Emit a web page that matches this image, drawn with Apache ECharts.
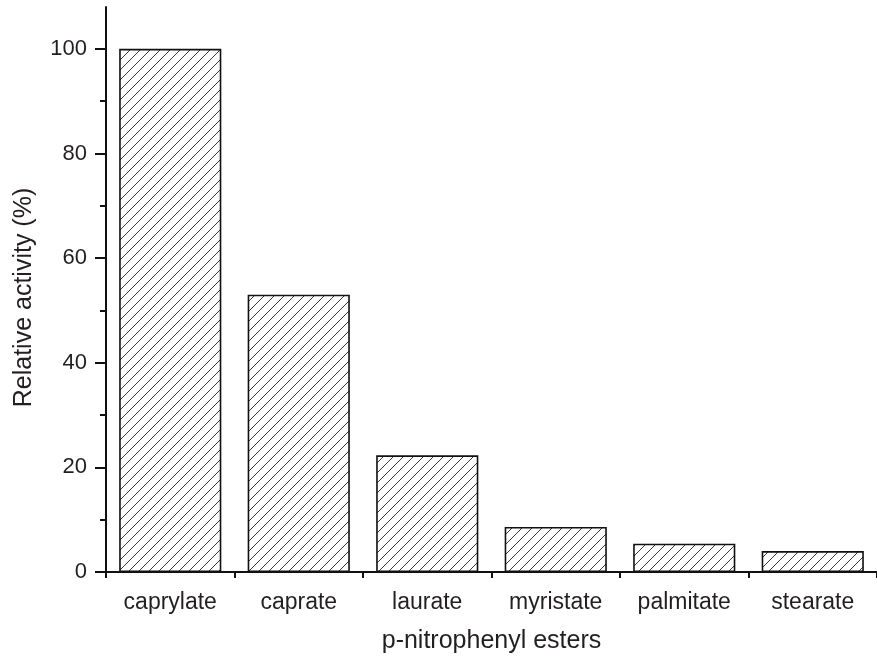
<!DOCTYPE html>
<html>
<head>
<meta charset="utf-8">
<script src="https://cdn.jsdelivr.net/npm/echarts@6/dist/echarts.min.js"></script>
<style>html,body{margin:0;padding:0;background:#fff}#c{width:877px;height:659px}</style>
</head>
<body>
<div id="c"></div>
<script>
var categories = ['caprylate', 'caprate', 'laurate', 'myristate', 'palmitate', 'stearate'];
var activity = [100, 53, 22.3, 8.6, 5.4, 4.0];
var yMajorTicks = [0, 20, 40, 60, 80, 100];
var yMinorTicks = [10, 30, 50, 70, 90];

function hatch() {
  var s = 10, cv = document.createElement('canvas');
  cv.width = s; cv.height = s;
  var g = cv.getContext('2d');
  g.fillStyle = '#fff'; g.fillRect(0, 0, s, s);
  g.strokeStyle = '#222'; g.lineWidth = 0.9;
  g.beginPath();
  g.moveTo(-1, s + 1); g.lineTo(s + 1, -1);
  g.moveTo(-1, 1); g.lineTo(1, -1);
  g.moveTo(s - 1, s + 1); g.lineTo(s + 1, s - 1);
  g.stroke();
  return cv;
}

var txt = '#231f20';
var font = 'Liberation Sans';
var chart = echarts.init(document.getElementById('c'));
chart.setOption({
  animation: false,
  backgroundColor: '#fff',
  grid: { left: 106, top: 7, width: 774, bottom: 87, containLabel: false },
  xAxis: [{
    type: 'category', data: categories, position: 'bottom',
    axisLine: { lineStyle: { color: '#111', width: 2 } },
    axisTick: { alignWithLabel: true, length: 11, lineStyle: { color: '#111', width: 2 } },
    axisLabel: { color: txt, fontSize: 23, fontFamily: font, margin: 19 },
    name: 'p-nitrophenyl esters', nameLocation: 'middle', nameGap: 57,
    nameTextStyle: { color: txt, fontSize: 25, fontFamily: font }
  }, {
    type: 'category', data: categories, position: 'bottom', offset: 0,
    axisLine: { show: false },
    axisTick: { show: true, length: 6, lineStyle: { color: '#111', width: 2 } },
    axisLabel: { show: false }
  }],
  yAxis: [{
    type: 'value', min: 0, max: 108,
    axisLine: { show: true, lineStyle: { color: '#111', width: 2 } },
    axisTick: { show: true, length: 11, customValues: yMajorTicks, lineStyle: { color: '#111', width: 2 } },
    axisLabel: { color: txt, fontSize: 22, fontFamily: font, margin: 19, customValues: yMajorTicks },
    splitLine: { show: false },
    name: 'Relative activity (%)', nameLocation: 'middle', nameGap: 69,
    nameTextStyle: { color: txt, fontSize: 25, fontFamily: font, padding: [0, 16, 0, 0] }
  }, {
    type: 'value', min: 0, max: 108, position: 'left', offset: 0,
    axisLine: { show: false },
    axisTick: { show: true, length: 6, customValues: yMinorTicks, lineStyle: { color: '#111', width: 2 } },
    axisLabel: { show: false },
    splitLine: { show: false }
  }],
  series: [{
    type: 'bar', data: activity, xAxisIndex: 0, yAxisIndex: 0,
    barWidth: '79.5%',
    itemStyle: { color: { image: hatch(), repeat: 'repeat' }, borderColor: '#111', borderWidth: 1.6 }
  }]
});
</script>
</body>
</html>
